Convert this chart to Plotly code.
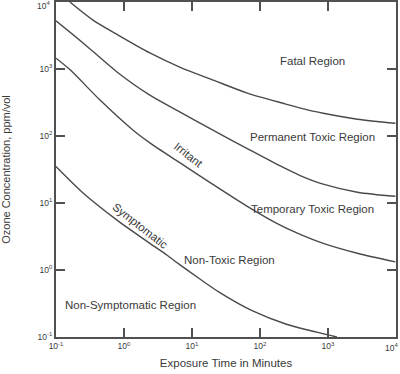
import math
import plotly.graph_objects as go

# Exposure time (minutes) and ozone concentration (ppm/vol) for each boundary curve
fatal_x = [0.16, 0.35, 0.78, 2.4, 6.6, 20, 65, 234, 500, 850, 2700, 9800]
fatal_y = [10000, 5370, 3310, 1740, 1070, 690, 437, 302, 245, 219, 178, 155]

perm_x = [0.10, 0.25, 0.78, 2.4, 6.6, 20, 65, 195, 390, 850, 2700, 9800]
perm_y = [5250, 2450, 912, 407, 229, 123, 65, 36, 25.7, 19.1, 14.5, 12.6]

irritant_x = [0.10, 0.16, 0.44, 1.35, 2.4, 6.6, 20, 65, 195, 390, 850, 2700, 9800]
irritant_y = [1450, 980, 347, 123, 79, 40, 19.1, 8.9, 4.7, 3.4, 2.5, 1.78, 1.32]

sympt_x = [0.10, 0.25, 0.78, 2.4, 4.3, 6.6, 12.9, 25.7, 78, 245, 760, 1350]
sympt_y = [35, 14.1, 5.6, 2.5, 1.66, 1.20, 0.74, 0.46, 0.245, 0.155, 0.115, 0.10]

tick_vals = [0.1, 1, 10, 100, 1000, 10000]
tick_text = ["10<sup>-1</sup>", "10<sup>0</sup>", "10<sup>1</sup>",
             "10<sup>2</sup>", "10<sup>3</sup>", "10<sup>4</sup>"]

# Region labels: text, x (minutes), y (ppm/vol), angle
label_text = ["Fatal Region", "Permanent Toxic Region", "Temporary Toxic Region",
              "Non-Toxic Region", "Non-Symptomatic Region", "Irritant", "Symptomatic"]
label_x = [600, 590, 600, 35, 1.23, 8.9, 1.75]
label_y = [1320, 98, 8.1, 1.41, 0.30, 52.5, 4.6]
label_angle = [0, 0, 0, 0, 0, 38, 38]

line_color = "#4a4a4a"
text_color = "#3a3a3a"
font_family = "Liberation Sans, Arial, Helvetica, sans-serif"
tick_font = dict(size=8.5, color=text_color, family=font_family)

fig = go.Figure()
for xs, ys in [(fatal_x, fatal_y), (perm_x, perm_y), (irritant_x, irritant_y), (sympt_x, sympt_y)]:
    fig.add_trace(go.Scatter(x=xs, y=ys, mode="lines",
                             line=dict(color=line_color, width=1.4, shape="spline", smoothing=0.8),
                             hoverinfo="skip", showlegend=False))

# annotations on log axes are positioned in log10 units
for t, x, y, a in zip(label_text, label_x, label_y, label_angle):
    fig.add_annotation(x=math.log10(x), y=math.log10(y), xref="x", yref="y", text=t,
                       showarrow=False, textangle=a,
                       font=dict(size=11.5, color=text_color, family=font_family))

# the top/right end labels sit at the figure edge; Plotly drops them, so place them explicitly
fig.add_annotation(x=0, y=1, xref="paper", yref="paper", text=tick_text[-1], showarrow=False,
                   xanchor="right", yanchor="middle", xshift=-4, yshift=-3, font=tick_font)
fig.add_annotation(x=1, y=0, xref="paper", yref="paper", text=tick_text[-1], showarrow=False,
                   xanchor="center", yanchor="top", xshift=-5, yshift=-3, font=tick_font)

axis_common = dict(type="log", showgrid=False, zeroline=False, showline=True,
                   linecolor="#505050", linewidth=2, mirror="ticks",
                   ticks="inside", ticklen=9, tickwidth=1.5, tickcolor="#505050",
                   tickvals=tick_vals, ticktext=tick_text, automargin=False,
                   tickfont=tick_font)

fig.update_xaxes(range=[-1, 4], title=dict(text="Exposure Time in Minutes", standoff=9,
                 font=dict(size=11.5, color=text_color, family=font_family)), **axis_common)
fig.update_yaxes(range=[-1, 4], title=dict(text="Ozone Concentration, ppm/vol", standoff=26,
                 font=dict(size=11, color=text_color, family=font_family)), **axis_common)

fig.update_layout(width=400, height=374, margin=dict(l=56, r=4, t=2, b=37),
                  plot_bgcolor="white", paper_bgcolor="white")

fig.write_html("out.html", config={"displayModeBar": False},
               post_script="document.body.style.margin='0px';")
